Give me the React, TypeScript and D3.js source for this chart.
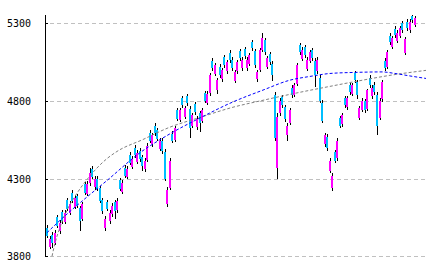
import React from 'react';
import * as d3 from 'd3';

const W = 432;
const H = 269;

const yTicks = [3800, 4300, 4800, 5300];

const opens = [
  3985, 3860, 3940, 3888, 4050, 3960, 4085, 4020, 4160, 4080, 4210, 4120, 4185, 4110, 4040, 4265, 4200, 4270, 4365, 4245,
  4300, 4240, 4160, 3985, 4150, 4025, 4070, 4150, 4095, 4290, 4215, 4370, 4310, 4455, 4375, 4500, 4410, 4480, 4440, 4360,
  4420, 4595, 4520, 4640, 4610, 4490, 4545, 4470, 4135, 4240, 4590, 4550, 4740, 4680, 4820, 4700, 4830, 4750, 4640, 4780,
  4630, 4720, 4670, 4850, 4790, 4850, 5060, 4975, 4870, 5020, 4940, 5080, 4990, 5110, 5065, 4930, 4990, 5120, 5010, 5135,
  5010, 5040, 5180, 5120, 4940, 5000, 5130, 5190, 5020, 5100, 5040, 4840, 4370, 4720, 4825, 4760, 4580, 4660, 4885, 4840,
  4910, 5160, 5070, 5145, 5005, 5060, 5125, 5060, 4990, 4950, 4790, 4520, 4570, 4350, 4240, 4470, 4430, 4690, 4650, 4820,
  4760, 4900, 4845, 4980, 4920, 4690, 4745, 4800, 4750, 4950, 4830, 4905, 4840, 4690, 4810, 5060, 5020, 5220, 5150, 5265,
  5185, 5220, 5300, 5110, 5310, 5255, 5345, 5290,
];
const highs = [
  4000, 3930, 3955, 3970, 4065, 4035, 4100, 4095, 4175, 4155, 4225, 4195, 4200, 4125, 4150, 4280, 4285, 4371, 4380, 4320,
  4315, 4255, 4175, 4060, 4165, 4100, 4140, 4165, 4175, 4305, 4290, 4385, 4380, 4470, 4445, 4515, 4485, 4495, 4455, 4430,
  4530, 4610, 4595, 4655, 4625, 4560, 4560, 4490, 4245, 4430, 4605, 4640, 4755, 4755, 4835, 4770, 4845, 4765, 4720, 4795,
  4705, 4735, 4755, 4865, 4865, 4980, 5075, 5045, 4950, 5035, 5015, 5095, 5065, 5125, 5080, 5000, 5065, 5135, 5080, 5150,
  5080, 5110, 5195, 5135, 5000, 5140, 5236, 5205, 5090, 5115, 5055, 4855, 4720, 4820, 4840, 4775, 4660, 4755, 4900, 4915,
  5045, 5175, 5145, 5160, 5080, 5130, 5140, 5075, 5080, 4965, 4805, 4595, 4585, 4430, 4335, 4485, 4560, 4705, 4725, 4835,
  4830, 4915, 4915, 4995, 4935, 4770, 4820, 4815, 4880, 4965, 4900, 4920, 4855, 4820, 4935, 5075, 5130, 5235, 5220, 5280,
  5255, 5285, 5315, 5215, 5325, 5325, 5352, 5350,
];
const lows = [
  3915, 3845, 3855, 3870, 3980, 3945, 4010, 4005, 4090, 4065, 4140, 4105, 4110, 3965, 4025, 4195, 4185, 4255, 4295, 4230,
  4220, 4140, 4075, 3965, 4090, 4010, 4055, 4040, 4080, 4220, 4200, 4305, 4295, 4385, 4360, 4430, 4395, 4410, 4350, 4345,
  4405, 4530, 4505, 4575, 4540, 4475, 4460, 4285, 4120, 4225, 4530, 4535, 4670, 4665, 4755, 4685, 4770, 4560, 4625, 4710,
  4615, 4600, 4655, 4785, 4775, 4835, 4995, 4960, 4848, 4950, 4925, 5015, 4975, 5045, 4995, 4915, 4975, 5060, 4995, 5070,
  4995, 5025, 5120, 5010, 4925, 4985, 5115, 5095, 5005, 5030, 4930, 4540, 4300, 4705, 4755, 4665, 4545, 4645, 4820, 4825,
  4895, 5095, 5055, 5075, 4990, 5045, 5055, 4887, 4975, 4785, 4655, 4505, 4475, 4335, 4223, 4400, 4415, 4625, 4635, 4755,
  4745, 4840, 4830, 4915, 4815, 4675, 4730, 4720, 4735, 4885, 4815, 4840, 4580, 4675, 4795, 4995, 5005, 5160, 5135, 5205,
  5170, 5205, 5240, 5094, 5250, 5240, 5300, 5275,
];
const closes = [
  3933, 3913, 3888, 3952, 3997, 4016, 4029, 4081, 4107, 4139, 4158, 4178, 4126, 4029, 4139, 4210, 4268, 4339, 4313, 4300,
  4236, 4158, 4094, 4042, 4107, 4081, 4126, 4094, 4158, 4236, 4274, 4320, 4365, 4403, 4429, 4449, 4468, 4429, 4384, 4416,
  4513, 4545, 4578, 4591, 4558, 4545, 4481, 4300, 4230, 4416, 4545, 4623, 4687, 4739, 4771, 4752, 4784, 4623, 4707, 4726,
  4687, 4661, 4739, 4803, 4848, 4965, 5010, 5029, 4932, 4965, 4997, 5029, 5048, 5061, 5010, 4984, 5048, 5074, 5061, 5087,
  5061, 5094, 5139, 5029, 4984, 5126, 5203, 5113, 5074, 5048, 4965, 4560, 4700, 4803, 4771, 4687, 4642, 4739, 4836, 4900,
  5029, 5113, 5126, 5094, 5061, 5113, 5074, 4965, 5061, 4803, 4674, 4578, 4494, 4416, 4320, 4416, 4545, 4642, 4707, 4771,
  4816, 4855, 4900, 4932, 4836, 4752, 4803, 4739, 4868, 4900, 4881, 4855, 4640, 4803, 4919, 5010, 5113, 5177, 5203, 5223,
  5236, 5268, 5255, 5200, 5268, 5306, 5319, 5332,
];

// trend curves (candle index, value)
const blueIdx = [0, 6.4, 15.2, 24, 36.8, 48.8, 61.6, 74, 86.4, 97.2, 105.2, 113.2, 123.6, 134, 139.2, 145.2, 151.6];
const blueVal = [3952, 4049, 4171, 4288, 4462, 4585, 4694, 4791, 4870, 4934, 4958, 4977, 4984, 4987, 4977, 4961, 4945];

const grayIdx = [2, 3.2, 4.8, 8, 12, 16.8, 24, 28, 38.4, 48.8, 61.2, 74, 86, 98.8, 113.2, 123.6, 137.2, 151.6];
const grayVal = [3800, 3884, 3968, 4096, 4206, 4310, 4429, 4475, 4552, 4629, 4694, 4758, 4803, 4848, 4894, 4926, 4965, 4997];

export default function App() {
  const n = closes.length;
  const x = d3.scaleLinear().domain([0, n - 1]).range([47, 414.5]);
  const y = d3.scaleLinear().domain([3800, 5300]).range([256.3, 23.3]);

  const blueLine = d3
    .line<number>()
    .x((_, i) => x(blueIdx[i]))
    .y((d) => y(d))
    .curve(d3.curveMonotoneX);
  const grayLine = d3
    .line<number>()
    .x((_, i) => x(grayIdx[i]))
    .y((d) => y(d))
    .curve(d3.curveMonotoneX);

  return (
    <svg
      width={W}
      height={H}
      style={{ position: 'fixed', left: 0, top: 0, background: '#fff' }}
    >
      {yTicks.map((t) => {
        const yy = Math.round(y(t)) + 0.5;
        return (
          <g key={t}>
            <line x1={50} x2={427} y1={yy} y2={yy} stroke="#C0C0C0" strokeDasharray="4,3" shapeRendering="crispEdges" />
            <line x1={45} x2={48} y1={yy} y2={yy} stroke="#000" shapeRendering="crispEdges" />
            <text
              x={31}
              y={yy}
              textAnchor="end"
              dominantBaseline="central"
              fontFamily="'DejaVu Sans Mono', monospace"
              fontSize={11}
              textLength={24}
              lengthAdjust="spacingAndGlyphs"
              fill="#000"
            >
              {t}
            </text>
          </g>
        );
      })}
      <line x1={45.5} x2={45.5} y1={15} y2={257} stroke="#000" shapeRendering="crispEdges" />

      {closes.map((c, i) => {
        const o = opens[i];
        const cx = Math.round(x(i));
        const hi = Math.max(highs[i], o, c);
        const lo = Math.min(lows[i], o, c);
        const top = Math.round(y(Math.max(o, c)));
        const bot = Math.round(y(Math.min(o, c)));
        const up = c >= o;
        return (
          <g key={i}>
            <line
              x1={cx + 0.5}
              x2={cx + 0.5}
              y1={Math.round(y(hi))}
              y2={Math.round(y(lo))}
              stroke="#000"
              shapeRendering="crispEdges"
            />
            <rect
              x={cx - 1}
              y={top}
              width={2}
              height={Math.max(1, bot - top)}
              fill={up ? '#FF00FF' : '#00BFFF'}
              shapeRendering="crispEdges"
            />
          </g>
        );
      })}

      <path d={grayLine(grayVal) || ''} fill="none" stroke="#808080" strokeWidth={1} strokeDasharray="3,2" />
      <path d={blueLine(blueVal) || ''} fill="none" stroke="#0000FF" strokeWidth={1} strokeDasharray="3,2" />
    </svg>
  );
}
